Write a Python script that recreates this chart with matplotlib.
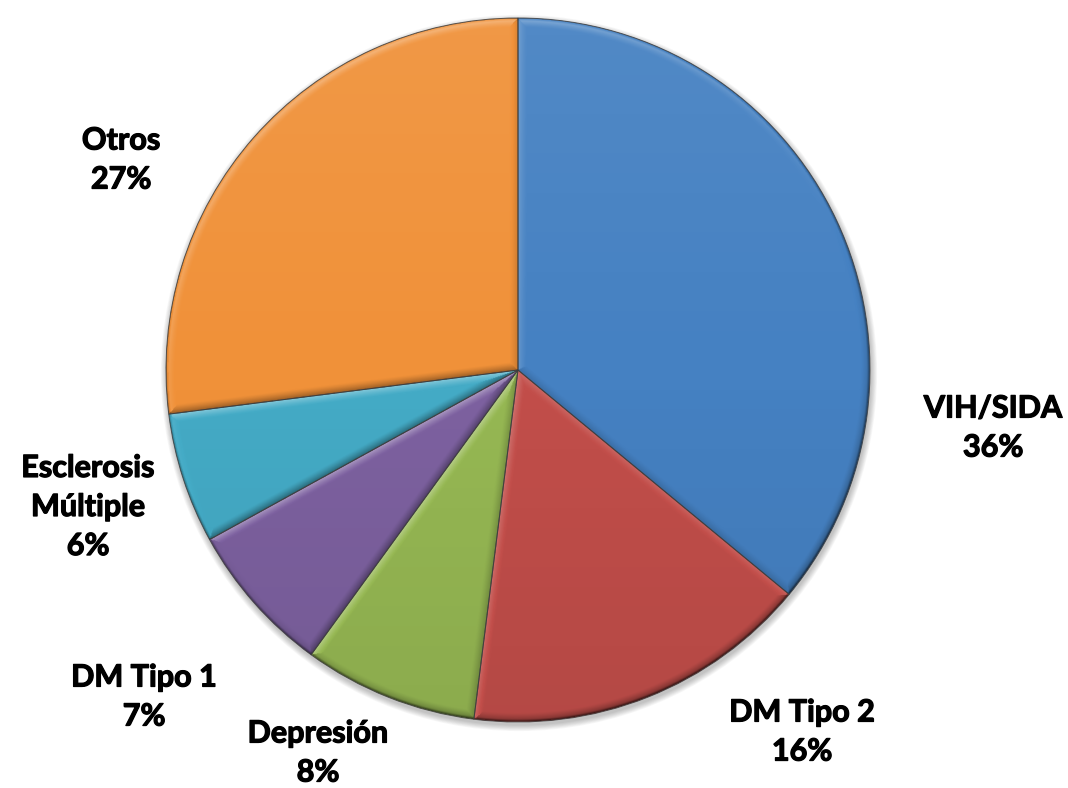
import numpy as np
import matplotlib
matplotlib.use("Agg")
import matplotlib.pyplot as plt
import matplotlib.patheffects as pe
from matplotlib.patches import Circle, Wedge

# Chart data
categories = ["VIH/SIDA", "DM Tipo 2", "Depresión", "DM Tipo 1", "Esclerosis\nMúltiple", "Otros"]
shares = [36, 16, 8, 7, 6, 27]
colors = ["#4581C2", "#C24E4A", "#96B853", "#7D61A0", "#44ABC6", "#F09139"]

W, H = 1068, 788
fig = plt.figure(figsize=(W / 100, H / 100), dpi=100)
ax = fig.add_axes([0, 0, 1, 1])
ax.axis("off")

cx, cy, R = 518, H - 370, 352

# soft shadow beneath the pie
for k in range(8):
    ax.add_patch(Circle((cx + 1, cy - 3), R + 0.5 + k * 0.8, facecolor="black",
                        edgecolor="none", alpha=0.03, zorder=0))

wedges, _ = ax.pie(shares, colors=colors, startangle=90, counterclock=False,
                   center=(cx, cy), radius=R, frame=False,
                   wedgeprops=dict(edgecolor="none", linewidth=0))
ax.set_xlim(0, W)
ax.set_ylim(0, H)
ax.set_aspect("equal")
ax.axis("off")

# bevelled shading of each slice, lit from the upper left
n = 900
gx = np.linspace(-R, R, n)
X, Y = np.meshgrid(gx, gx)
r = np.hypot(X, Y) + 1e-9
light = np.array([-0.45, 0.89])
bw = 9.0

for w in wedges:
    t1, t2 = np.radians(w.theta1), np.radians(w.theta2)
    d_arc = R - r
    n_arc = (X / r) * light[0] + (Y / r) * light[1]
    d1 = -X * np.sin(t1) + Y * np.cos(t1)
    n1 = np.sin(t1) * light[0] - np.cos(t1) * light[1]
    d2 = X * np.sin(t2) - Y * np.cos(t2)
    n2 = -np.sin(t2) * light[0] + np.cos(t2) * light[1]
    dists = np.stack([d_arc, d1, d2])
    normals = np.stack([n_arc, np.full_like(X, n1), np.full_like(X, n2)])
    idx = np.argmin(np.where(dists < 0, 1e9, dists), axis=0)
    d = np.take_along_axis(dists, idx[None], 0)[0]
    nl = np.take_along_axis(normals, idx[None], 0)[0]
    wgt = np.clip(1 - d / bw, 0, 1) ** 1.3
    s = 0.38 * wgt * nl + 0.07 * (Y / R)
    s = s - 0.35 * np.clip(1 - d_arc / 2.5, 0, 1)
    rgba = np.zeros((n, n, 4))
    rgba[..., :3] = (s > 0)[..., None].astype(float)
    rgba[..., 3] = np.clip(np.abs(s), 0, 1)
    im = ax.imshow(rgba, extent=(cx - R, cx + R, cy - R, cy + R), origin="lower",
                   interpolation="bilinear", zorder=w.get_zorder() + 0.1)
    im.set_clip_path(w)

for w in wedges:
    ax.add_patch(Wedge(w.center, w.r, w.theta1, w.theta2, facecolor="none",
                       edgecolor="#3c3c3c", linewidth=0.7, alpha=0.8, zorder=3))

# category labels
label_pos = [(993, 428), (802, 732), (318, 753), (144, 697), (88, 507), (121, 160)]
for cat, val, (lx, ly) in zip(categories, shares, label_pos):
    ax.text(lx, H - ly, f"{cat}\n{val}%", ha="center", va="center",
            fontsize=22, fontweight="bold", family="Lato", color="black",
            linespacing=1.48, zorder=5,
            path_effects=[pe.withStroke(linewidth=0.9, foreground="black")])

ax.set_xlim(0, W)
ax.set_ylim(0, H)
fig.savefig("out.png", dpi=100)
